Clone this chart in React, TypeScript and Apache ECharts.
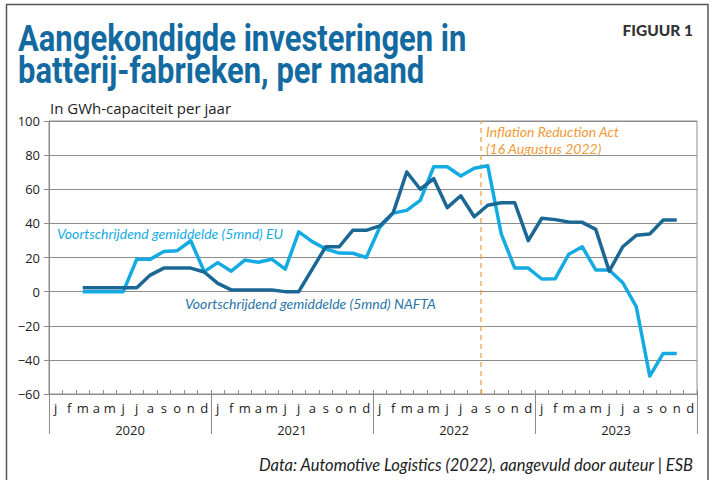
import React, { useEffect, useRef } from "react";
import * as echarts from "echarts";

const years = ["2020", "2021", "2022", "2023"];
const monthLetters = ["j", "f", "m", "a", "m", "j", "j", "a", "s", "o", "n", "d"];
const categories: string[] = [];
years.forEach((y) => {
  for (let m = 1; m <= 12; m++) categories.push(y + "-" + (m < 10 ? "0" + m : m));
});

const euValues = [
  null, null, 0, 0, 0, 0, 19, 19, 23.5, 24, 29.8, 11.7,
  17, 12, 18.5, 17.2, 19, 13.2, 35, 29.3, 25, 22.6, 22.5, 20,
  37.7, 46, 47.6, 53.5, 73.2, 73.2, 67.8, 72.3, 73.8, 33.8, 13.8, 13.8,
  7.4, 7.6, 21.9, 26.3, 12.7, 12.7, 5.2, -8.8, -49.5, -36.2, -36.2, null,
];
const naftaValues = [
  null, null, 2.3, 2.3, 2.3, 2.3, 2.3, 9.7, 13.8, 13.8, 13.8, 11.5,
  4.8, 1, 1, 1, 1, 0, 0, 13.2, 26.3, 26.3, 35.9, 35.9,
  38.5, 46.3, 70.1, 60, 66.2, 49.2, 56.2, 43.9, 50.6, 52.1, 52.1, 29.9,
  43, 42.2, 40.8, 40.6, 36.5, 12, 26.3, 33, 33.8, 42, 42, null,
];
const yTicks = { min: -60, max: 100, interval: 20 };
const iraPosition = 32; // month boundary (in months since Jan 2020)

const EU_COLOR = "#14abe3";
const NAFTA_COLOR = "#1c6895";
const ORANGE = "#f09a36";
const GRID_COLOR = "#8c8c8c";
const TEXT = "#222222";
const FONT = "Lato";
const FONT2 = "Open Sans";

export default function App() {
  const ref = useRef<HTMLDivElement>(null);
  useEffect(() => {
    if (!ref.current) return;
    const chart = echarts.init(ref.current, null, { renderer: "svg" });
    const gridPos = { left: 49, right: 15, top: 121, bottom: 86, containLabel: false };
    chart.setOption({
      animation: false,
      backgroundColor: "#ffffff",
      grid: [
        { ...gridPos, show: true, borderColor: GRID_COLOR, borderWidth: 1 },
        { ...gridPos },
      ],
      xAxis: [
        {
          type: "category",
          gridIndex: 0,
          data: categories,
          boundaryGap: true,
          axisLine: { show: true, onZero: false, lineStyle: { color: GRID_COLOR, width: 1 } },
          axisTick: { show: true, inside: true, length: 4, interval: 0, lineStyle: { color: GRID_COLOR } },
          axisLabel: {
            interval: 0,
            margin: 7,
            fontFamily: FONT2,
            fontSize: 13,
            color: TEXT,
            formatter: (v: string) => monthLetters[parseInt(v.slice(5), 10) - 1],
          },
          splitLine: { show: false },
        },
        {
          type: "value",
          gridIndex: 1,
          min: 0,
          max: 48,
          interval: 12,
          axisLine: { show: false, onZero: false },
          axisTick: {
            show: true,
            length: 40,
            customValues: [0, 12, 24, 36, 48],
            lineStyle: { color: GRID_COLOR, width: 1 },
          },
          axisLabel: {
            show: true,
            customValues: [6, 18, 30, 42],
            margin: 29,
            fontFamily: FONT2,
            fontSize: 13,
            color: TEXT,
            formatter: (v: number) => years[Math.floor(v / 12)],
          },
          splitLine: { show: false },
        },
      ],
      yAxis: [
        {
          type: "value",
          gridIndex: 0,
          min: yTicks.min,
          max: yTicks.max,
          interval: yTicks.interval,
          axisLine: { show: true, onZero: false, lineStyle: { color: GRID_COLOR, width: 1 } },
          axisTick: { show: true, length: 5, lineStyle: { color: GRID_COLOR } },
          axisLabel: {
            margin: 9,
            fontFamily: FONT2,
            fontSize: 13,
            color: TEXT,
            formatter: (v: number) => String(v).replace("-", "\u2212"),
          },
          splitLine: { show: true, lineStyle: { color: GRID_COLOR, width: 1 } },
        },
        {
          type: "value",
          gridIndex: 1,
          min: yTicks.min,
          max: yTicks.max,
          show: false,
        },
      ],
      series: [
        {
          type: "line",
          xAxisIndex: 1,
          yAxisIndex: 1,
          data: [
            [iraPosition, yTicks.min],
            [iraPosition, yTicks.max],
          ],
          symbol: "none",
          silent: true,
          lineStyle: { color: ORANGE, width: 1.2, type: [5, 4] },
        },
        {
          name: "EU",
          type: "line",
          data: euValues,
          symbol: "none",
          connectNulls: false,
          lineStyle: { color: EU_COLOR, width: 3.5, join: "round" },
          itemStyle: { color: EU_COLOR },
        },
        {
          name: "NAFTA",
          type: "line",
          data: naftaValues,
          symbol: "none",
          lineStyle: { color: NAFTA_COLOR, width: 3.5, join: "round" },
          itemStyle: { color: NAFTA_COLOR },
        },
      ],
      graphic: [
        {
          type: "rect",
          shape: { x: 6.5, y: 4.5, width: 701.5, height: 520 },
          style: { fill: "none", stroke: "#555555", lineWidth: 1.5 },
          silent: true,
        },
        {
          type: "text",
          x: 18,
          y: 37.5,
          scaleX: 0.837,
          style: {
            text: "Aangekondigde investeringen in",
            fontFamily: "Roboto",
            fontWeight: "bold",
            fontSize: 37,
            fill: "#136aa0",
            verticalAlign: "middle",
          },
        },
        {
          type: "text",
          x: 18,
          y: 70,
          scaleX: 0.837,
          style: {
            text: "batterij-fabrieken, per maand",
            fontFamily: "Roboto",
            fontWeight: "bold",
            fontSize: 37,
            fill: "#136aa0",
            verticalAlign: "middle",
          },
        },
        {
          type: "text",
          x: 693,
          y: 30,
          style: {
            text: "FIGUUR 1",
            fontFamily: FONT,
            fontWeight: 900,
            fontSize: 15.5,
            fill: "#333333",
            align: "right",
            verticalAlign: "middle",
          },
        },
        {
          type: "text",
          x: 50,
          y: 108,
          style: {
            text: "In GWh-capaciteit per jaar",
            fontFamily: FONT2,
            fontSize: 15,
            fill: TEXT,
            verticalAlign: "middle",
          },
        },
        {
          type: "text",
          x: 57,
          y: 233,
          style: {
            text: "Voortschrijdend gemiddelde (5mnd) EU",
            fontFamily: FONT,
            fontStyle: "italic",
            fontSize: 14,
            fill: EU_COLOR,
            verticalAlign: "middle",
          },
        },
        {
          type: "text",
          x: 185,
          y: 303,
          style: {
            text: "Voortschrijdend gemiddelde (5mnd) NAFTA",
            fontFamily: FONT,
            fontStyle: "italic",
            fontSize: 14,
            fill: "#2b75a5",
            verticalAlign: "middle",
          },
        },
        {
          type: "text",
          x: 486,
          y: 131,
          style: {
            text: "Inflation Reduction Act",
            fontFamily: FONT,
            fontStyle: "italic",
            fontSize: 14,
            fill: ORANGE,
            verticalAlign: "middle",
          },
        },
        {
          type: "text",
          x: 486,
          y: 148,
          style: {
            text: "(16 Augustus 2022)",
            fontFamily: FONT,
            fontStyle: "italic",
            fontSize: 14,
            fill: ORANGE,
            verticalAlign: "middle",
          },
        },
        {
          type: "text",
          x: 693,
          y: 465,
          style: {
            text: "Data: Automotive Logistics (2022), aangevuld door auteur | ESB",
            fontFamily: FONT,
            fontStyle: "italic",
            fontSize: 16.5,
            fill: TEXT,
            align: "right",
            verticalAlign: "middle",
          },
        },
      ],
    });
    return () => chart.dispose();
  }, []);
  return (
    <div
      ref={ref}
      style={{ position: "fixed", left: 0, top: 0, width: 712, height: 480, background: "#fff" }}
    />
  );
}
